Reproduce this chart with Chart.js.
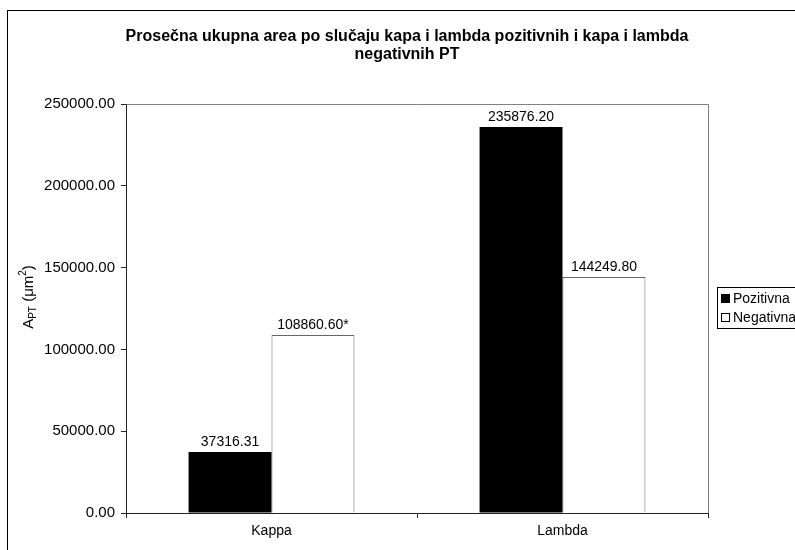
<!DOCTYPE html>
<html>
<head>
<meta charset="utf-8">
<script src="https://cdn.jsdelivr.net/npm/chart.js@4.4.1/dist/chart.umd.min.js"></script>
<style>
html,body{margin:0;padding:0;background:#fff;overflow:hidden;width:795px;height:550px;}
#wrap{position:absolute;left:0;top:0;width:830px;height:560px;}
</style>
</head>
<body>
<div id="wrap"><canvas id="c" width="830" height="560"></canvas></div>
<script>
const categories = ['Kappa', 'Lambda'];
const seriesNames = ['Pozitivna', 'Negativna'];
const pozitivna = [37316.31, 235876.20];
const negativna = [108860.60, 144249.80];
const negativnaSuffix = ['*', ''];
const yTicks = [0, 50000, 100000, 150000, 200000, 250000];
const titleLines = ['Prosečna ukupna area po slučaju kapa i lambda pozitivnih i kapa i lambda', 'negativnih PT'];

const FONT = 'Arial, "Liberation Sans", sans-serif';

const decor = {
  id: 'decor',
  beforeDraw(chart) {
    const ctx = chart.ctx;
    ctx.save();
    ctx.fillStyle = '#fff';
    ctx.fillRect(0, 0, chart.width, chart.height);
    ctx.strokeStyle = '#000';
    ctx.lineWidth = 1;
    ctx.strokeRect(7.5, 10.5, 900, 600);
    ctx.restore();
  },
  afterDraw(chart) {
    const ctx = chart.ctx;
    const a = chart.chartArea;
    ctx.save();
    // title
    ctx.fillStyle = '#000';
    ctx.font = 'bold 16px ' + FONT;
    ctx.textAlign = 'center';
    ctx.textBaseline = 'middle';
    titleLines.forEach((t, i) => ctx.fillText(t, 407, 37 + i * 18));

    // plot area border (top & right)
    ctx.strokeStyle = '#808080';
    ctx.lineWidth = 1;
    ctx.beginPath();
    ctx.moveTo(Math.round(a.left) + 0.5, Math.round(a.top) + 0.5);
    ctx.lineTo(Math.round(a.right) + 0.5, Math.round(a.top) + 0.5);
    ctx.lineTo(Math.round(a.right) + 0.5, Math.round(a.bottom));
    ctx.stroke();

    // data labels
    ctx.fillStyle = '#000';
    ctx.font = '14px ' + FONT;
    ctx.textAlign = 'center';
    ctx.textBaseline = 'middle';
    chart.data.datasets.forEach((ds, di) => {
      const meta = chart.getDatasetMeta(di);
      meta.data.forEach((el, i) => {
        const suffix = (ds.labelSuffix && ds.labelSuffix[i]) || '';
        ctx.fillText(ds.data[i].toFixed(2) + suffix, el.x, el.y - 10);
      });
    });

    // y axis title A_PT (um^2)
    ctx.save();
    ctx.translate(33, 297);
    ctx.rotate(-Math.PI / 2);
    ctx.textBaseline = 'alphabetic';
    ctx.textAlign = 'left';
    const parts = [
      {t: 'A', f: 15, dy: 0},
      {t: 'PT', f: 10, dy: 3},
      {t: ' (\u03bcm', f: 15, dy: 0},
      {t: '2', f: 10, dy: -7},
      {t: ')', f: 15, dy: 0}
    ];
    let total = 0;
    parts.forEach(p => { ctx.font = p.f + 'px ' + FONT; p.w = ctx.measureText(p.t).width; total += p.w; });
    let x = -total / 2;
    parts.forEach(p => { ctx.font = p.f + 'px ' + FONT; ctx.fillText(p.t, x, 0 + p.dy); x += p.w; });
    ctx.restore();

    // legend
    const lx = 717, ly = 287, lw = 110, lh = 41;
    ctx.strokeStyle = '#000';
    ctx.strokeRect(lx + 0.5, ly + 0.5, lw, lh);
    ctx.font = '14px ' + FONT;
    ctx.textAlign = 'left';
    ctx.textBaseline = 'middle';
    chart.data.datasets.forEach((ds, di) => {
      const cy = ly + 11 + di * 19;
      ctx.fillStyle = ds.backgroundColor;
      ctx.fillRect(lx + 4.5, cy - 3.5, 8, 8);
      ctx.strokeStyle = '#000';
      ctx.strokeRect(lx + 4.5, cy - 3.5, 8, 8);
      ctx.fillStyle = '#000';
      ctx.fillText(ds.label, lx + 16, cy + 1);
    });
    ctx.restore();
  }
};

new Chart(document.getElementById('c'), {
  type: 'bar',
  data: {
    labels: categories,
    datasets: [
      {label: seriesNames[0], data: pozitivna, backgroundColor: '#000000', borderColor: '#000000', borderWidth: 0},
      {label: seriesNames[1], data: negativna, labelSuffix: negativnaSuffix, backgroundColor: '#ffffff', borderColor: '#666666', borderWidth: 1}
    ]
  },
  options: {
    responsive: false,
    animation: false,
    devicePixelRatio: 1,
    layout: {padding: {left: 0, right: 122, top: 104, bottom: 10}},
    datasets: {bar: {categoryPercentage: 0.57, barPercentage: 1.0}},
    plugins: {
      legend: {display: false},
      tooltip: {enabled: false},
      title: {display: false}
    },
    scales: {
      x: {
        type: 'category',
        offset: true,
        grid: {display: true, offset: true, drawOnChartArea: false, drawTicks: true, tickLength: 5, color: '#222', lineWidth: 1},
        border: {display: true, color: '#222', width: 1},
        ticks: {color: '#000', font: {family: FONT, size: 14}, padding: 5},
        afterFit(s) { s.height = 37; }
      },
      y: {
        min: 0,
        max: 250000,
        afterBuildTicks(s) { s.ticks = yTicks.map(v => ({value: v})); },
        grid: {display: true, drawOnChartArea: false, drawTicks: true, tickLength: 5, color: '#222', lineWidth: 1},
        border: {display: true, color: '#222', width: 1},
        ticks: {color: '#000', font: {family: FONT, size: 15}, padding: 6, callback: v => Number(v).toFixed(2)},
        afterFit(s) { s.width = 126; }
      }
    }
  },
  plugins: [decor]
});
</script>
</body>
</html>
